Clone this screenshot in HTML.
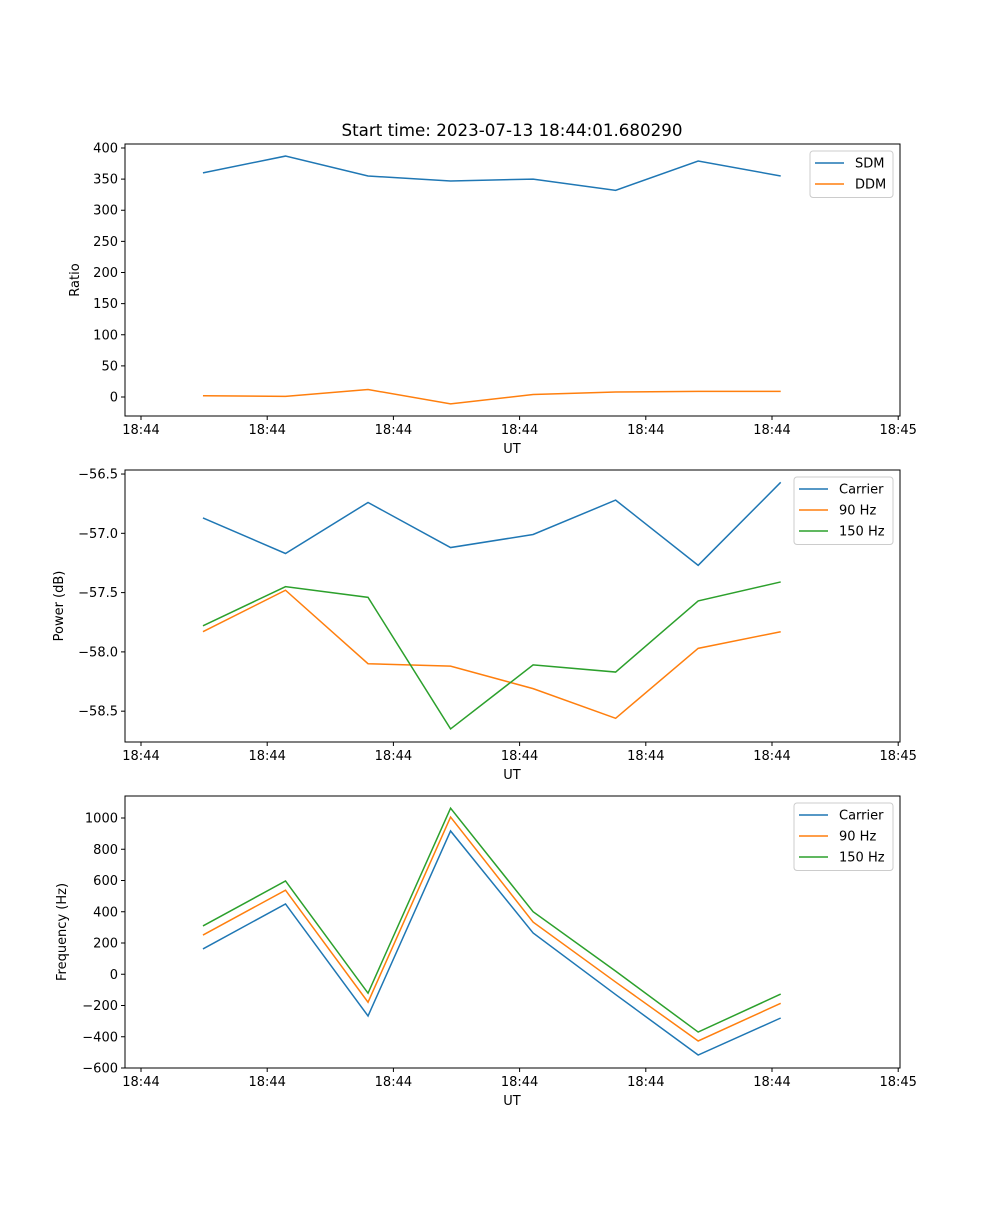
<!DOCTYPE html>
<html><head><meta charset="utf-8"><style>
body{margin:0;background:#fff}
text{font-family:"DejaVu Sans","Liberation Sans",sans-serif;font-size:13px;fill:#000}
</style></head><body>
<svg id="fig" width="1000" height="1200" xmlns="http://www.w3.org/2000/svg">
<rect width="1000" height="1200" fill="#fff"/>
<text x="512" y="136" text-anchor="middle" style="font-size:16.7px">Start time: 2023-07-13 18:44:01.680290</text>
</svg>
<script>
const xTickVals=[0,1,2,3,4,5,6];
const xTickLabels=["18:44","18:44","18:44","18:44","18:44","18:44","18:45"];
const xVals=[0.491,1.145,1.799,2.453,3.107,3.761,4.415,5.069];
const sdm=[360,387,355,347,350,332,379,355];
const ddm=[2,1,12,-11,4,8,9,9];
const pCarrier=[-56.87,-57.17,-56.74,-57.12,-57.01,-56.72,-57.27,-56.57];
const p90=[-57.83,-57.48,-58.10,-58.12,-58.31,-58.56,-57.97,-57.83];
const p150=[-57.78,-57.45,-57.54,-58.65,-58.11,-58.17,-57.57,-57.41];
const fCarrier=[162,450,-267,917,264,-130,-517,-280];
const f90=[251,538,-179,1006,334,-50,-427,-186];
const f150=[309,597,-121,1063,400,20,-370,-127];
const ticks1=[0,50,100,150,200,250,300,350,400];
const ticks2=[-58.5,-58.0,-57.5,-57.0,-56.5];
const ticks3=[-600,-400,-200,0,200,400,600,800,1000];

const NS="http://www.w3.org/2000/svg";
const svg=document.getElementById('fig');
function el(t,a,p){const e=document.createElementNS(NS,t);for(const k in a)e.setAttribute(k,a[k]);(p||svg).appendChild(e);return e;}
const C=["#1f77b4","#ff7f0e","#2ca02c"];
const L=125,R=900;
function xS(v){return 141+v*126.2;}
function panel(name,top,bot,ymin,ymax,yt,fmt,ylabel,series,names,legX,legW){
  const g=el('g',{});
  
  
  const yS=v=>bot-(v-ymin)/(ymax-ymin)*(bot-top);
  series.forEach((s,i)=>{
    const pl=el('polyline',{points:s.map((v,j)=>xS(xVals[j])+','+yS(v)).join(' '),fill:'none',stroke:C[i],'stroke-width':1.5},g);
    
    
  });
  const fr=el('rect',{x:L,y:top,width:R-L,height:bot-top,fill:'none',stroke:'#000','stroke-width':1},g);
  
  
  xTickVals.forEach((v,i)=>{
    const x=xS(v);
    el('line',{x1:x,x2:x,y1:bot,y2:bot+4,stroke:'#000'},g);
    const t=el('text',{x:x,y:bot+18,'text-anchor':'middle'},g);t.textContent=xTickLabels[i];
    
    
  });
  yt.forEach(v=>{
    const y=yS(v);
    el('line',{x1:L-4,x2:L,y1:y,y2:y,stroke:'#000'},g);
    const t=el('text',{x:L-7,y:y+4.5,'text-anchor':'end'},g);t.textContent=fmt(v);
    
    
  });
  const xl=el('text',{x:512,y:bot+37,'text-anchor':'middle'},g);xl.textContent='UT';
  
  
  const yc=(top+bot)/2;
  const yl=el('text',{x:0,y:0,'text-anchor':'middle',transform:`translate(${ylabel[1]},${yc}) rotate(-90)`},g);yl.textContent=ylabel[0];
  
  
  const lg=el('g',{},g);
  
  
  el('rect',{x:legX,y:top+7,width:legW,height:names.length*21+4.5,rx:3,fill:'#fff','fill-opacity':0.8,stroke:'#ccc'},lg);
  names.forEach((n,i)=>{
    const y=top+19+i*21;
    el('line',{x1:legX+5,x2:legX+34,y1:y,y2:y,stroke:C[i],'stroke-width':1.5},lg);
    const t=el('text',{x:legX+45,y:y+4.5},lg);t.textContent=n;
    
    
  });
}
panel('ratio-panel',144,416,-30.5,406.4,ticks1,v=>String(v),['Ratio',79],[sdm,ddm],['SDM','DDM'],810,83);
panel('power-panel',470,742,-58.76,-56.466,ticks2,v=>'\u2212'+Math.abs(v).toFixed(1),['Power (dB)',63],[pCarrier,p90,p150],['Carrier','90 Hz','150 Hz'],794,99);
panel('frequency-panel',796,1068,-600,1140.8,ticks3,v=>(v<0?'\u2212':'')+Math.abs(v),['Frequency (Hz)',66],[fCarrier,f90,f150],['Carrier','90 Hz','150 Hz'],794,99);
</script>
</body></html>
